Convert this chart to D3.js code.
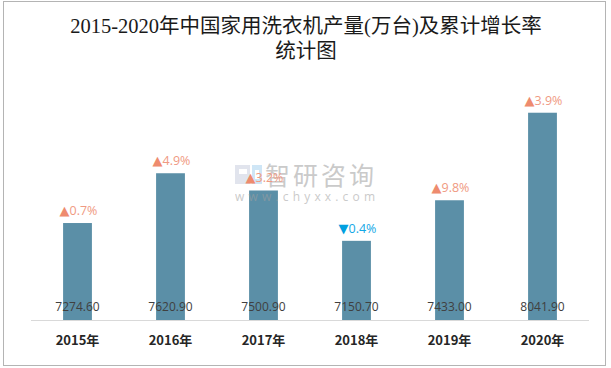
<!DOCTYPE html>
<html><head><meta charset="utf-8">
<script src="https://cdn.jsdelivr.net/npm/d3@7"></script>
<style>html,body{margin:0;padding:0;background:#fff;}svg{display:block;}</style>
</head><body>
<svg id="chart" width="611" height="368"></svg>
<script>
const years = ["2015年","2016年","2017年","2018年","2019年","2020年"];
const output = [7274.60, 7620.90, 7500.90, 7150.70, 7433.00, 8041.90];
const growth = [0.7, 4.9, 3.2, 0.4, 9.8, 3.9];
const growthDir = ["up","up","up","down","up","up"];
const titleLines = ["2015-2020年中国家用洗衣机产量(万台)及累计增长率", "统计图"];
const yDomain = [6600, 8200];

const svg = d3.select("#chart");
svg.append("rect").attr("x",3.5).attr("y",1.5).attr("width",602).attr("height",364)
  .attr("fill","#fff").attr("stroke","#b4b4b4").attr("stroke-width",1);

const title = svg.append("text").attr("text-anchor","middle")
  .attr("font-family","'Liberation Serif','Noto Sans CJK SC',serif")
  .attr("font-size",20.5).attr("fill","#1a1a1a");
titleLines.forEach((t,i)=>{
  title.append("tspan").attr("x",306).attr("y",33+i*24.5).text(t);
});

const x = d3.scaleBand().domain(years).range([31,589]).paddingInner(0.69).paddingOuter(0.345);
const y = d3.scaleLinear().domain(yDomain).range([320,90]);

const data = years.map((yr,i)=>({yr, v:output[i], g:growth[i], dir:growthDir[i]}));

svg.append("g").selectAll("rect").data(data).join("rect")
  .attr("x",d=>x(d.yr)).attr("y",d=>y(d.v))
  .attr("width",x.bandwidth()).attr("height",d=>y(yDomain[0])-y(d.v))
  .attr("fill","#5b8fa7");

// watermark (between bars and labels)
const wm = svg.append("g").attr("opacity",0.55);
wm.append("rect").attr("x",235).attr("y",165).attr("width",15).attr("height",19).attr("fill","#c9cfe0");
wm.append("rect").attr("x",239).attr("y",169).attr("width",8).attr("height",5).attr("fill","#fff");
wm.append("rect").attr("x",252).attr("y",165).attr("width",10).attr("height",19).attr("fill","#a9d3f0");
wm.append("rect").attr("x",255).attr("y",170).attr("width",4).attr("height",9).attr("fill","#fff");
wm.append("text").attr("x",265).attr("y",185).attr("font-family","'Noto Sans CJK SC',sans-serif")
  .attr("font-size",25).attr("letter-spacing",3).attr("fill","#a0a0a0").text("智研咨询");
wm.append("text").attr("x",235).attr("y",201).attr("font-family","'Open Sans',sans-serif")
  .attr("font-size",12).attr("textLength",140).attr("lengthAdjust","spacing")
  .attr("fill","#a0a0a0").text("www.chyxx.com");

// axis
const axis = svg.append("g").attr("transform","translate(0,320)")
  .call(d3.axisBottom(x).tickSize(0).tickPadding(16));
axis.select(".domain").attr("stroke","#d9d9d9").attr("d","M31,0.5H589");
axis.selectAll("text").attr("font-family","'Noto Sans CJK SC','Open Sans',sans-serif")
  .attr("font-weight","bold").attr("font-size",13).attr("fill","#262626");

// value labels
svg.append("g").selectAll("text").data(data).join("text")
  .attr("x",d=>x(d.yr)+x.bandwidth()/2).attr("y",311)
  .attr("text-anchor","middle").attr("font-family","'Open Sans',sans-serif")
  .attr("font-size",12).attr("fill","#404040")
  .text(d=>d.v.toFixed(2));

// growth labels
const gl = svg.append("g").selectAll("text").data(data).join("text")
  .attr("x",d=>x(d.yr)+x.bandwidth()/2+1).attr("y",d=>y(d.v)-8)
  .attr("text-anchor","middle").attr("font-family","'Open Sans',sans-serif")
  .attr("font-size",12.5);
gl.append("tspan").attr("font-family","'DejaVu Sans',sans-serif").attr("font-size",13)
  .attr("fill",d=>d.dir==="up"?"#ee8b6e":"#00a0e0")
  .text(d=>d.dir==="up"?"▲":"▼");
gl.append("tspan").attr("fill",d=>d.dir==="up"?"#f09a82":"#13a8e6")
  .text(d=>d.g.toFixed(1)+"%");
</script>
</body></html>
